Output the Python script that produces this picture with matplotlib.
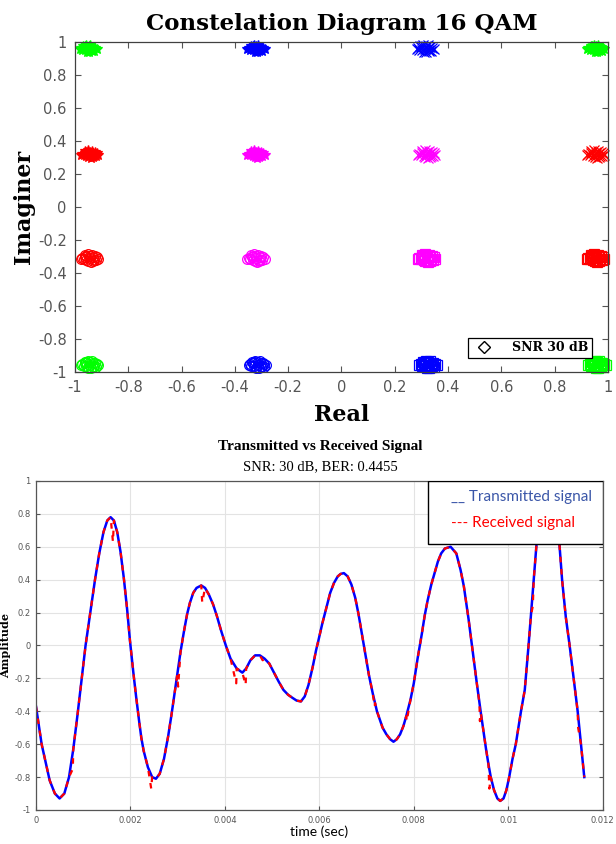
import numpy as np
import matplotlib
matplotlib.use("Agg")
import matplotlib.pyplot as plt
from matplotlib.lines import Line2D
from matplotlib.patches import Rectangle
from matplotlib.ticker import FuncFormatter

plt.rcParams['axes.unicode_minus'] = False

# ---- constellation data (cluster centres, colour, marker) ----
row_y = [0.96, 0.32, -0.31, -0.955]
centres_x = [[-0.95, -0.32, 0.315, 0.955],
             [-0.945, -0.32, 0.32, 0.955],
             [-0.945, -0.32, 0.32, 0.955],
             [-0.945, -0.315, 0.325, 0.96]]
cluster_colors = [['#00ff00', '#0000ff', '#0000ff', '#00ff00'],
                  ['#ff0000', '#ff00ff', '#ff00ff', '#ff0000'],
                  ['#ff0000', '#ff00ff', '#ff00ff', '#ff0000'],
                  ['#00ff00', '#0000ff', '#0000ff', '#00ff00']]
cluster_markers = [['*', '*', 'x', '*'],
                   ['*', '*', 'x', 'x'],
                   ['o', 'o', 's', 's'],
                   ['o', 'o', 's', 's']]
# noise offsets
noise_dx = [0.000, 0.015, -0.013, 0.026, -0.023, 0.008, -0.005, 0.019, -0.028, 0.012,
            -0.017, 0.032, -0.008, 0.004, 0.023, -0.019, 0.013, -0.033, 0.001, -0.012]
noise_dy = [0.000, -0.010, 0.014, 0.005, -0.006, 0.020, -0.018, 0.012, 0.003, -0.015,
            0.009, -0.004, 0.024, -0.022, -0.013, 0.017, 0.008, -0.003, 0.013, -0.009]

# ---- transmitted signal (t in ms, amplitude) ----
tx_t_ms = [0.00, 0.12, 0.29, 0.40, 0.50, 0.60, 0.70, 0.79, 0.88, 0.97, 1.05, 1.15, 1.25, 1.34,
           1.43, 1.51, 1.58, 1.65, 1.72, 1.79, 1.86, 1.93, 1.99, 2.06, 2.12, 2.18, 2.23, 2.28,
           2.37, 2.46, 2.54, 2.62, 2.71, 2.80, 2.87, 2.93, 2.99, 3.06, 3.13, 3.20, 3.26, 3.33,
           3.40, 3.50, 3.58, 3.66, 3.75, 3.83, 3.92, 4.02, 4.12, 4.25, 4.37, 4.45, 4.54, 4.64,
           4.74, 4.84, 4.94, 5.03, 5.14, 5.24, 5.34, 5.44, 5.52, 5.61, 5.69, 5.77, 5.86, 5.93,
           5.98, 6.06, 6.14, 6.23, 6.31, 6.39, 6.45, 6.52, 6.60, 6.68, 6.76, 6.83, 6.89, 6.96,
           7.05, 7.13, 7.18, 7.22, 7.28, 7.34, 7.42, 7.50, 7.57, 7.64, 7.71, 7.78, 7.84, 7.93,
           8.00, 8.08, 8.17, 8.23, 8.29, 8.37, 8.45, 8.51, 8.58, 8.66, 8.78, 8.90, 8.99, 9.06,
           9.11, 9.16, 9.20, 9.24, 9.28, 9.33, 9.39, 9.42, 9.47, 9.53, 9.58, 9.63, 9.70, 9.77,
           9.83, 9.90, 9.96, 10.02, 10.09, 10.16, 10.22, 10.27, 10.35, 10.43, 10.48, 10.54,
           10.60, 10.67, 10.75, 10.85, 10.95, 11.02, 11.08, 11.14, 11.22, 11.30, 11.36, 11.42,
           11.47, 11.54, 11.61]
tx_amp = [-0.37, -0.60, -0.82, -0.90, -0.93, -0.90, -0.80, -0.63, -0.42, -0.20, 0.00, 0.20, 0.40, 0.56,
          0.69, 0.76, 0.78, 0.76, 0.69, 0.57, 0.41, 0.22, 0.03, -0.16, -0.31, -0.45, -0.56, -0.64,
          -0.74, -0.80, -0.81, -0.78, -0.69, -0.55, -0.42, -0.30, -0.18, -0.04, 0.08, 0.19, 0.26, 0.32,
          0.35, 0.365, 0.35, 0.31, 0.25, 0.18, 0.09, 0.00, -0.08, -0.14, -0.165, -0.14, -0.09, -0.06,
          -0.06, -0.08, -0.11, -0.16, -0.22, -0.27, -0.30, -0.32, -0.335, -0.34, -0.31, -0.24, -0.13, -0.03,
          0.03, 0.13, 0.22, 0.32, 0.38, 0.42, 0.435, 0.44, 0.42, 0.37, 0.29, 0.19, 0.09, -0.03,
          -0.18, -0.29, -0.35, -0.40, -0.45, -0.50, -0.54, -0.57, -0.585, -0.57, -0.54, -0.49, -0.43, -0.33,
          -0.23, -0.08, 0.07, 0.18, 0.27, 0.37, 0.45, 0.51, 0.56, 0.59, 0.60, 0.56, 0.46, 0.36,
          0.26, 0.16, 0.07, -0.02, -0.11, -0.22, -0.35, -0.41, -0.51, -0.63, -0.72, -0.80, -0.88, -0.93,
          -0.945, -0.93, -0.88, -0.80, -0.69, -0.60, -0.49, -0.40, -0.27, 0.00, 0.18, 0.40,
          0.62, 0.82, 0.96, 1.03, 0.97, 0.83, 0.63, 0.40, 0.17, 0.00, -0.14, -0.28,
          -0.40, -0.60, -0.80]

# received signal = transmitted plus these noise glitches
glitch_t_ms = [0.78, 1.63, 2.44, 3.01, 3.52, 4.24, 4.31, 4.44, 4.80, 7.17, 7.85, 9.40, 9.60, 10.52, 11.48]
glitch_amp = [-0.75, 0.63, -0.87, -0.25, 0.26, -0.23, -0.15, -0.24, -0.09, -0.37, -0.46, -0.46, -0.87, 0.24, -0.50]

fig = plt.figure(figsize=(6.16, 8.44), dpi=100)

# ================= constellation =================
ax1 = fig.add_axes([0.1218, 0.5592, 0.865, 0.391])
for r in range(4):
    for c in range(4):
        xs = [centres_x[r][c] + d for d in noise_dx]
        ys = [row_y[r] + d for d in noise_dy]
        m = cluster_markers[r][c]
        if m in ('o', 's'):
            ax1.plot(xs, ys, linestyle='none', marker=m, markersize=7, mfc='none',
                     mec=cluster_colors[r][c], mew=0.9, clip_on=False)
        else:
            ax1.plot(xs, ys, linestyle='none', marker=m, markersize=7,
                     color=cluster_colors[r][c], mew=0.9, clip_on=False)

ax1.set_xlim(-1, 1)
ax1.set_ylim(-1, 1)
ax1.set_xticks(np.arange(-1, 1.01, 0.2))
ax1.set_yticks(np.arange(-1, 1.01, 0.2))
fmt = FuncFormatter(lambda v, p: '{:g}'.format(round(v, 3) + 0.0))
ax1.xaxis.set_major_formatter(fmt)
ax1.yaxis.set_major_formatter(fmt)
ax1.tick_params(direction='in', top=True, right=True, length=4, width=0.8,
                labelsize=10.5, colors='#555555', pad=6)
for s in ax1.spines.values():
    s.set_color('#404040')
    s.set_linewidth(0.9)
ax1.set_title('Constelation Diagram 16 QAM', fontsize=16.5, fontweight='bold',
              family='DejaVu Serif', pad=9)
ax1.set_xlabel('Real', fontsize=16, fontweight='bold', family='DejaVu Serif', labelpad=6)
ax1.set_ylabel('Imaginer', fontsize=16, fontweight='bold', family='DejaVu Serif', labelpad=2)

h = Line2D([], [], linestyle='none', marker='D', markersize=6, mfc='none', mec='black', mew=1)
leg1 = ax1.legend([h], ['SNR 30 dB'], loc='lower right', bbox_to_anchor=(0.970, 0.042),
                  borderaxespad=0, fancybox=False, framealpha=1, edgecolor='black',
                  prop={'family': 'DejaVu Serif', 'weight': 'bold', 'size': 9},
                  handletextpad=1.2, borderpad=0.3)
leg1.get_frame().set_linewidth(0.9)
leg1.set_zorder(10)

# ================= time signal =================
ax2 = fig.add_axes([0.0584, 0.0403, 0.9200, 0.3898])
tx_t = np.array(tx_t_ms) * 1e-3
tx_y = np.array(tx_amp)
rx_t = np.concatenate([tx_t, np.array(glitch_t_ms) * 1e-3])
rx_y = np.concatenate([tx_y, np.array(glitch_amp)])
order = np.argsort(rx_t, kind='stable')
rx_t = rx_t[order]
rx_y = rx_y[order]

ax2.plot(tx_t, tx_y, color='#0000ff', linewidth=1.8)
ax2.plot(rx_t, rx_y, color='#ff0000', linewidth=1.6, dashes=(2.5, 3))

ax2.set_xlim(0, 0.012)
ax2.set_ylim(-1, 1)
ax2.set_xticks(np.arange(0, 0.01201, 0.002))
ax2.set_yticks(np.arange(-1, 1.01, 0.2))
ax2.xaxis.set_major_formatter(FuncFormatter(lambda v, p: '{:g}'.format(round(v, 4) + 0.0)))
ax2.yaxis.set_major_formatter(fmt)
ax2.grid(True, color='#e3e3e3', linewidth=0.8)
ax2.set_axisbelow(True)
ax2.tick_params(direction='in', top=False, right=True, length=3, width=0.8,
                labelsize=6, colors='#555555', pad=4)
for s in ax2.spines.values():
    s.set_color('#555555')
    s.set_linewidth(0.9)

fig.text(0.5195, 0.4705, 'Transmitted vs Received Signal', ha='center', va='center',
         fontsize=11, fontweight='bold', family='Liberation Serif')
fig.text(0.5195, 0.4475, 'SNR: 30 dB, BER: 0.4455', ha='center', va='center',
         fontsize=10.5, family='Liberation Serif')
ax2.set_xlabel('time (sec)', fontsize=10, family='Lato', labelpad=1)
ax2.set_ylabel('Amplitude', fontsize=8, fontweight='bold', family='DejaVu Serif', labelpad=2)

# text-style legend box
ax2.add_patch(Rectangle((0.691, 0.807), 0.309, 0.193, transform=ax2.transAxes,
                        facecolor='white', edgecolor='black', linewidth=1, zorder=5))
ax2.text(0.733, 0.952, '__ Transmitted signal', transform=ax2.transAxes, va='center',
         ha='left', fontsize=11, color='#3a56a8', family='Lato', zorder=6)
ax2.text(0.733, 0.873, '--- Received signal', transform=ax2.transAxes, va='center',
         ha='left', fontsize=11, color='#ff0000', family='Lato', zorder=6)

fig.savefig('out.png', dpi=100)
